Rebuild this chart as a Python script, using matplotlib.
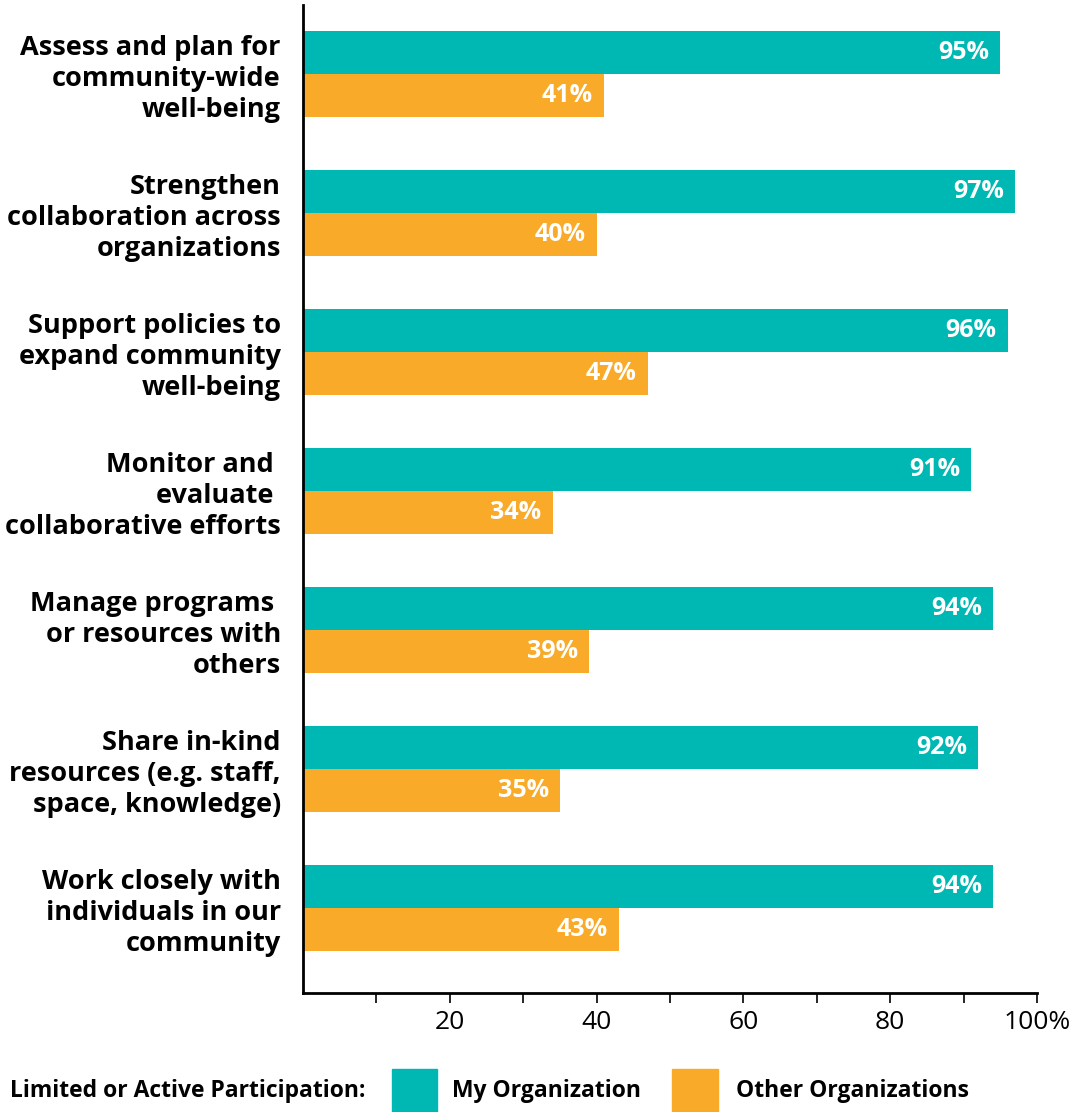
import matplotlib.pyplot as plt
from matplotlib.patches import Rectangle

# Survey results: share reporting limited or active participation
categories = [
    "Assess and plan for\ncommunity-wide\nwell-being",
    "Strengthen\ncollaboration across\norganizations",
    "Support policies to\nexpand community\nwell-being",
    "Monitor and \nevaluate \ncollaborative efforts",
    "Manage programs \nor resources with\nothers",
    "Share in-kind\nresources (e.g. staff,\nspace, knowledge)",
    "Work closely with\nindividuals in our\ncommunity",
]
my_org = [95, 97, 96, 91, 94, 92, 94]
other_orgs = [41, 40, 47, 34, 39, 35, 43]
tick_values = [20, 40, 60, 80, 100]
tick_labels = ["20", "40", "60", "80", "100%"]

teal = "#00B8B3"
orange = "#F9AA28"
plt.rcParams['font.family'] = ['Open Sans', 'DejaVu Sans']

fig = plt.figure(figsize=(10.76, 11.12), dpi=100)
ax = fig.add_axes([0.2816, 0.1070, 0.6822, 0.8885])

bar_h = 0.309
pos = list(range(len(categories)))
ax.barh([p - bar_h / 2 for p in pos], my_org, height=bar_h, color=teal)
ax.barh([p + bar_h / 2 for p in pos], other_orgs, height=bar_h, color=orange)

for p, v in zip(pos, my_org):
    ax.text(v - 1.5, p - bar_h / 2, f"{v}%", ha="right", va="center",
            color="white", fontsize=18, fontweight="bold")
for p, v in zip(pos, other_orgs):
    ax.text(v - 1.5, p + bar_h / 2, f"{v}%", ha="right", va="center",
            color="white", fontsize=18, fontweight="bold")

ax.set_xlim(0, 100)
ax.set_ylim(6.612, -0.496)
ax.set_yticks(pos)
ax.set_yticklabels(categories, fontsize=19.5, fontweight="bold",
                   linespacing=1.25)
ax.tick_params(axis="y", length=0, pad=16)
ax.set_xticks(range(10, 101, 10))
ax.set_xticklabels(["" if t not in tick_values else tick_labels[tick_values.index(t)]
                    for t in range(10, 101, 10)], fontsize=19)
ax.tick_params(axis="x", length=7, width=1.2, direction="out", pad=5)
for side in ["top", "right"]:
    ax.spines[side].set_visible(False)
ax.spines["left"].set_linewidth(2)
ax.spines["bottom"].set_linewidth(2)

# Legend row along the bottom
ly = 1 - 1091 / 1112
fig.text(10 / 1076, ly, "Limited or Active Participation:",
         fontsize=16.5, fontweight="bold", va="center", ha="left")
fig.add_artist(Rectangle((392 / 1076, 0), 45 / 1076, 43 / 1112,
                         transform=fig.transFigure, color=teal))
fig.text(452 / 1076, ly, "My Organization",
         fontsize=16.5, fontweight="bold", va="center", ha="left")
fig.add_artist(Rectangle((672 / 1076, 0), 46 / 1076, 43 / 1112,
                         transform=fig.transFigure, color=orange))
fig.text(736 / 1076, ly, "Other Organizations",
         fontsize=16.5, fontweight="bold", va="center", ha="left")

fig.savefig("out.png", dpi=100)
